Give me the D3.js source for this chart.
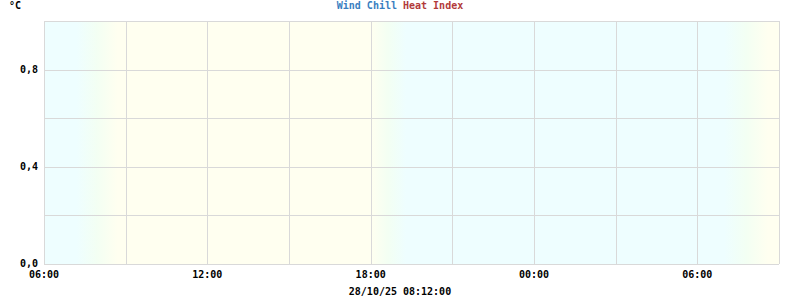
<!DOCTYPE html>
<html lang="en">
<head>
  <meta charset="UTF-8">
  <style>
    body { margin: 0; overflow: hidden; background: #fff; }
    svg { display: block; }
    text { font-family: "DejaVu Sans Mono", monospace; font-weight: bold; font-size: 10px; }
    .grid line { stroke: #d9d9d9; stroke-width: 1; shape-rendering: crispEdges; }
  </style>
  <script src="https://d3js.org/d3.v7.min.js"></script>
</head>
<body>
<svg id="chart"></svg>
<script>
  // time range of the chart
  const startTime = new Date(2025, 9, 27, 6, 0);
  const endTime = new Date(2025, 9, 28, 9, 0);
  const stamp = "28/10/25 08:12:00";

  // day / night fades (hours from start)
  const sunrise = [1.2, 2.7, 25.0, 26.6];
  const sunset = [12.0, 13.3];

  const yTicks = [0, 0.4, 0.8];
  const yGrid = [0, 0.2, 0.4, 0.6, 0.8, 1.0];

  // series (no values in this period)
  const windChill = [];
  const heatIndex = [];

  const W = 800, H = 300;
  const m = { left: 44, right: 21, top: 21, bottom: 36 };

  const svg = d3.select("#chart").attr("width", W).attr("height", H);

  const x = d3.scaleTime().domain([startTime, endTime]).range([m.left, W - m.right]);
  const y = d3.scaleLinear().domain([0, 1]).range([H - m.bottom, m.top]);

  const night = "#eefeff", mid = "#f3fff3", day = "#fffff0";

  // background gradient, built from band times
  const defs = svg.append("defs");
  const grad = defs.append("linearGradient").attr("id", "bg")
    .attr("gradientUnits", "userSpaceOnUse")
    .attr("x1", x(startTime)).attr("x2", x(endTime)).attr("y1", 0).attr("y2", 0);
  const total = (endTime - startTime) / 3600e3;
  const stops = [
    [0, night],
    [sunrise[0], night], [(sunrise[0] + sunrise[1]) / 2, mid], [sunrise[1], day],
    [sunset[0], day], [(sunset[0] + sunset[1]) / 2, mid], [sunset[1], night],
    [sunrise[2], night], [(sunrise[2] + sunrise[3]) / 2, mid], [sunrise[3], day],
    [total, day]
  ];
  stops.forEach(s => grad.append("stop").attr("offset", s[0] / total).attr("stop-color", s[1]));

  svg.append("rect")
    .attr("x", x(startTime)).attr("y", y(1))
    .attr("width", x(endTime) - x(startTime)).attr("height", y(0) - y(1))
    .attr("fill", "url(#bg)");

  // grid
  const g = svg.append("g").attr("class", "grid");
  g.selectAll(".v").data(x.ticks(d3.timeHour.every(3))).join("line")
    .attr("x1", d => Math.round(x(d)) + 0.5).attr("x2", d => Math.round(x(d)) + 0.5)
    .attr("y1", y(1)).attr("y2", y(0));
  g.append("line").attr("x1", x(endTime)).attr("x2", x(endTime)).attr("y1", y(1)).attr("y2", y(0));
  g.selectAll(".h").data(yGrid).join("line")
    .attr("x1", x(startTime)).attr("x2", x(endTime))
    .attr("y1", d => Math.round(y(d)) + 0.5).attr("y2", d => Math.round(y(d)) + 0.5);

  // y labels
  svg.selectAll(".yl").data(yTicks).join("text")
    .attr("x", 38).attr("y", d => y(d) + 3)
    .attr("text-anchor", "end").attr("fill", "#000")
    .text(d => d3.format(".1f")(d).replace(".", ","));

  svg.append("text").attr("x", 9).attr("y", 9).text("°C");

  // x labels
  svg.selectAll(".xl").data(x.ticks(d3.timeHour.every(6))).join("text")
    .attr("x", d => x(d)).attr("y", 278)
    .attr("text-anchor", "middle")
    .text(d => d3.timeFormat("%H:%M")(d));

  svg.append("text").attr("x", 400).attr("y", 295).attr("text-anchor", "middle").text(stamp);

  // title / legend
  const title = svg.append("text").attr("x", 400).attr("y", 9).attr("text-anchor", "middle");
  title.append("tspan").attr("fill", "#3a7ebf").text("Wind Chill ");
  title.append("tspan").attr("fill", "#b23a3a").text("Heat Index");

  // series lines
  const line = d3.line().x(d => x(d[0])).y(d => y(d[1]));
  svg.append("path").datum(windChill).attr("fill", "none").attr("stroke", "#3a7ebf").attr("d", line);
  svg.append("path").datum(heatIndex).attr("fill", "none").attr("stroke", "#b23a3a").attr("d", line);
</script>
</body>
</html>
